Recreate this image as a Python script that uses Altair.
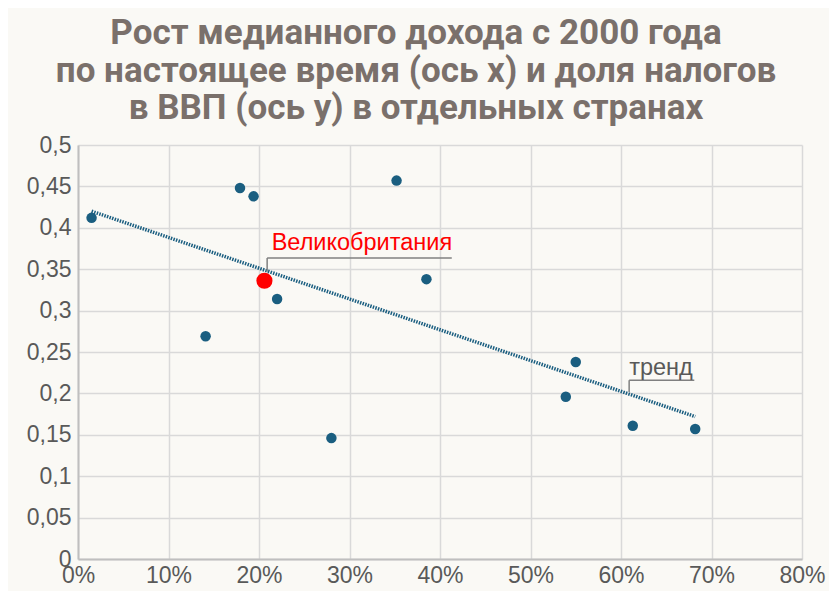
import altair as alt
import pandas as pd

# data (x: growth of median income, %, y: tax share of GDP)
growth = [1.5, 17.9, 19.4, 14.1, 22.0, 28.0, 35.2, 38.5, 55.0, 53.9, 61.3, 68.2]
tax = [0.412, 0.448, 0.438, 0.269, 0.314, 0.146, 0.457, 0.338, 0.238, 0.196, 0.161, 0.157]
uk_growth = [20.6]
uk_tax = [0.336]
trend_x = [1.5, 68.2]
trend_y = [0.420, 0.172]

title_lines = ["Рост медианного дохода с 2000 года",
               "по настоящее время (ось x) и доля налогов",
               "в ВВП (ось y) в отдельных странах"]

pts = pd.DataFrame({"x": growth, "y": tax})
uk = pd.DataFrame({"x": uk_growth, "y": uk_tax})
trend = pd.DataFrame({"x": trend_x, "y": trend_y})

# annotation callouts (data units)
ann_text = pd.DataFrame({"x": [21.4, 60.9], "y": [0.373, 0.222],
                         "t": ["Великобритания", "тренд"], "c": ["#ff0000", "#595959"]})
ann_v = pd.DataFrame({"x": [20.9, 60.9], "y": [0.347, 0.2017], "y2": [0.3635, 0.216]})
ann_h = pd.DataFrame({"x": [20.9, 60.9], "x2": [41.3, 68.1], "y": [0.3635, 0.216]})

xs = alt.Scale(domain=[0, 80], nice=False, zero=False)
ys = alt.Scale(domain=[0, 0.5], nice=False, zero=False)

X = alt.X("x:Q", scale=xs, axis=alt.Axis(
    values=[0, 10, 20, 30, 40, 50, 60, 70, 80], labelExpr="datum.value + '%'",
    title=None, grid=True, gridColor="#d9d9d9", gridWidth=1.5,
    domainColor="#bfbfbf", domainWidth=2, ticks=False,
    labelFont="Liberation Sans", labelFontSize=23, labelColor="#595959",
    labelPadding=5, labelFlush=False))
Y = alt.Y("y:Q", scale=ys, axis=alt.Axis(
    values=[0, 0.05, 0.1, 0.15, 0.2, 0.25, 0.3, 0.35, 0.4, 0.45, 0.5],
    labelExpr="replace(format(datum.value, '.2~f'), '.', ',')",
    title=None, grid=True, gridColor="#d9d9d9", gridWidth=1.5,
    domainColor="#bfbfbf", domainWidth=2, ticks=False,
    labelFont="Liberation Sans", labelFontSize=23, labelColor="#595959",
    labelPadding=7, labelFlush=False))

base_pts = alt.Chart(pts).mark_circle(size=110, opacity=1, color="#1a5e80").encode(x=X, y=Y)
trend_line = alt.Chart(trend).mark_line(color="#1a5e80", strokeWidth=3.5,
                                        strokeDash=[1.5, 1.2]).encode(x="x:Q", y="y:Q")
uk_pt = alt.Chart(uk).mark_circle(size=260, opacity=1, color="#ff0000").encode(x="x:Q", y="y:Q")
vrule = alt.Chart(ann_v).mark_rule(color="#808080", strokeWidth=1.5).encode(x="x:Q", y="y:Q", y2="y2")
hrule = alt.Chart(ann_h).mark_rule(color="#808080", strokeWidth=1.5).encode(x="x:Q", x2="x2", y="y:Q")
texts = alt.Chart(ann_text).mark_text(align="left", baseline="alphabetic", font="Liberation Sans",
                                      fontSize=23.5).encode(
    x="x:Q", y="y:Q", text="t:N", color=alt.Color("c:N", scale=None))

chart = alt.layer(trend_line, base_pts, uk_pt, vrule, hrule, texts).properties(
    width=724, height=414,
    autosize="none",
    padding={"left": 70, "top": 137, "right": 27, "bottom": 32},
    background="#faf9f5",
    title=alt.Title(title_lines, anchor="middle", dx=-24, offset=8,
                    font="Roboto", fontSize=35, fontWeight="bold",
                    color="#7a706b", lineHeight=37.5),
).configure_view(stroke=None)

chart.save("out.html", embed_options={"renderer": "svg", "actions": False})
